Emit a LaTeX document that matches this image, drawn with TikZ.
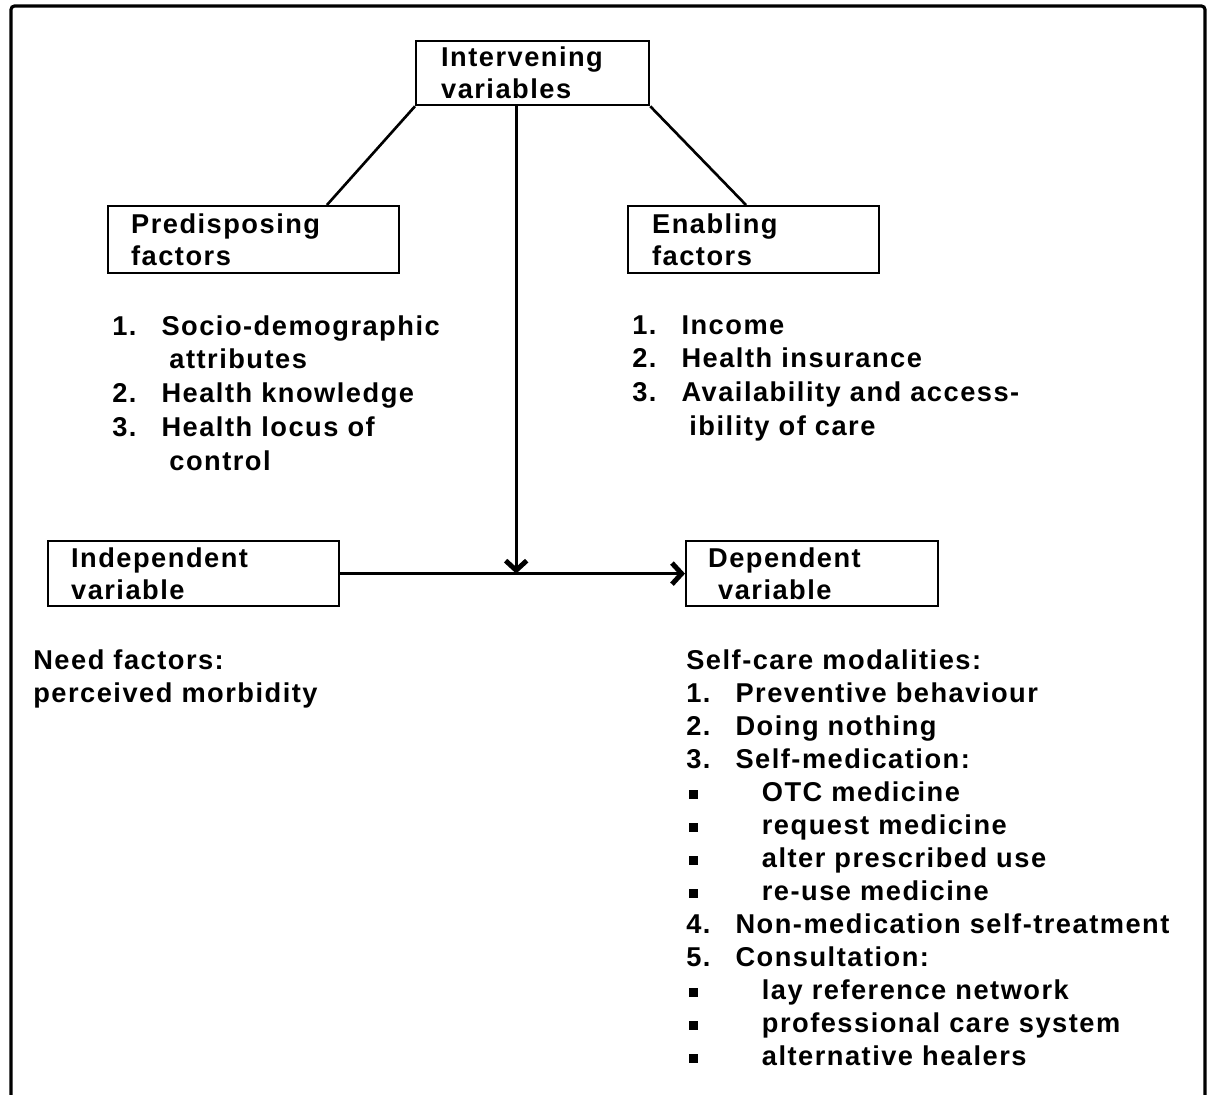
\documentclass[tikz,border=0pt]{standalone}
\usepackage{fontspec}
\setmainfont{Liberation Sans}[LetterSpace=5.5, UprightFont=*-Bold]
\usetikzlibrary{arrows.meta,calc}
\newlength{\numw}\setlength{\numw}{28pt}
\newcommand{\itm}[2]{\makebox[\numw][l]{#1}#2}
\newcommand{\cont}[1]{\hspace*{\numw}\hspace*{4.5pt}#1}
\newcommand{\blt}[1]{\makebox[43pt][l]{\hspace{1.5pt}\rule[1.5pt]{5pt}{5pt}}#1}
\tikzset{
  box/.style={draw, line width=1.3pt, anchor=north west, align=left, inner ysep=0pt,
    font=\fontsize{15.5}{18.2}\selectfont},
  lst/.style={anchor=north west, align=left, inner sep=0pt},
  uplst/.style={lst, font=\fontsize{15.5}{19.3}\selectfont},
  lowlst/.style={lst, font=\fontsize{15.5}{18.8}\selectfont},
  ln/.style={line width=1.5pt},
  arr/.style={line width=1.6pt, -{Straight Barb[length=5.5pt,width=12pt,line width=2.8pt]}}
}
\begin{document}
\begin{tikzpicture}[x=0.02cm, y=-0.02cm]
	\useasboundingbox (0,0) rectangle (1208,1095);
	\draw[line width=1.8pt, rounded corners=2pt] (11,1100) |- (1205,6) -- (1205,1100);
	% boxes
	\node[box, text width=3.66cm, inner xsep=0.5cm, minimum height=1.28cm] (interv) at (415,40) {Intervening\\variables};
	\node[box, text width=4.9cm, inner xsep=0.46cm, minimum height=1.34cm] (predisp) at (107,205) {Predisposing\\factors};
	\node[box, text width=4.06cm, inner xsep=0.48cm, minimum height=1.34cm] (enabl) at (627,205) {Enabling\\factors};
	\node[box, text width=4.9cm, inner xsep=0.46cm, minimum height=1.3cm] (indep) at (47,540) {Independent\\variable};
	\node[box, text width=4.16cm, inner xsep=0.44cm, minimum height=1.3cm] (dep) at (685,540) {Dependent\\\hspace*{0.2cm}variable};
	% lists
	\node[uplst] (predlist) at (112,315) {\itm{1.}{Socio-demographic}\\\cont{attributes}\\\itm{2.}{Health knowledge}\\\itm{3.}{Health locus of}\\\cont{control}};
	\node[uplst] (enablist) at (632,315) {\itm{1.}{Income}\\\itm{2.}{Health insurance}\\\itm{3.}{Availability and access-}\\\cont{ibility of care}};
	\node[lowlst] (need) at (33,649) {Need factors:\\perceived morbidity};
	\node[lowlst] (selfcare) at (686,649) {Self-care modalities:\\\itm{1.}{Preventive behaviour}\\\itm{2.}{Doing nothing}\\\itm{3.}{Self-medication:}\\
		\blt{OTC medicine}\\\blt{request medicine}\\\blt{alter prescribed use}\\\blt{re-use medicine}\\
		\itm{4.}{Non-medication self-treatment}\\\itm{5.}{Consultation:}\\
		\blt{lay reference network}\\\blt{professional care system}\\\blt{alternative healers}};
	% connectors
	\coordinate (vtop) at ($(interv.south west)!0.43!(interv.south east)$);
	\draw[ln] (interv.south west) -- ($(predisp.north west)!0.75!(predisp.north east)$);
	\draw[ln] (interv.south east) -- ($(enabl.north west)!0.47!(enabl.north east)$);
	\draw[arr] (vtop) -- (vtop |- indep.east);
	\draw[arr] (indep.east) -- (dep.west);
\end{tikzpicture}
\end{document}
